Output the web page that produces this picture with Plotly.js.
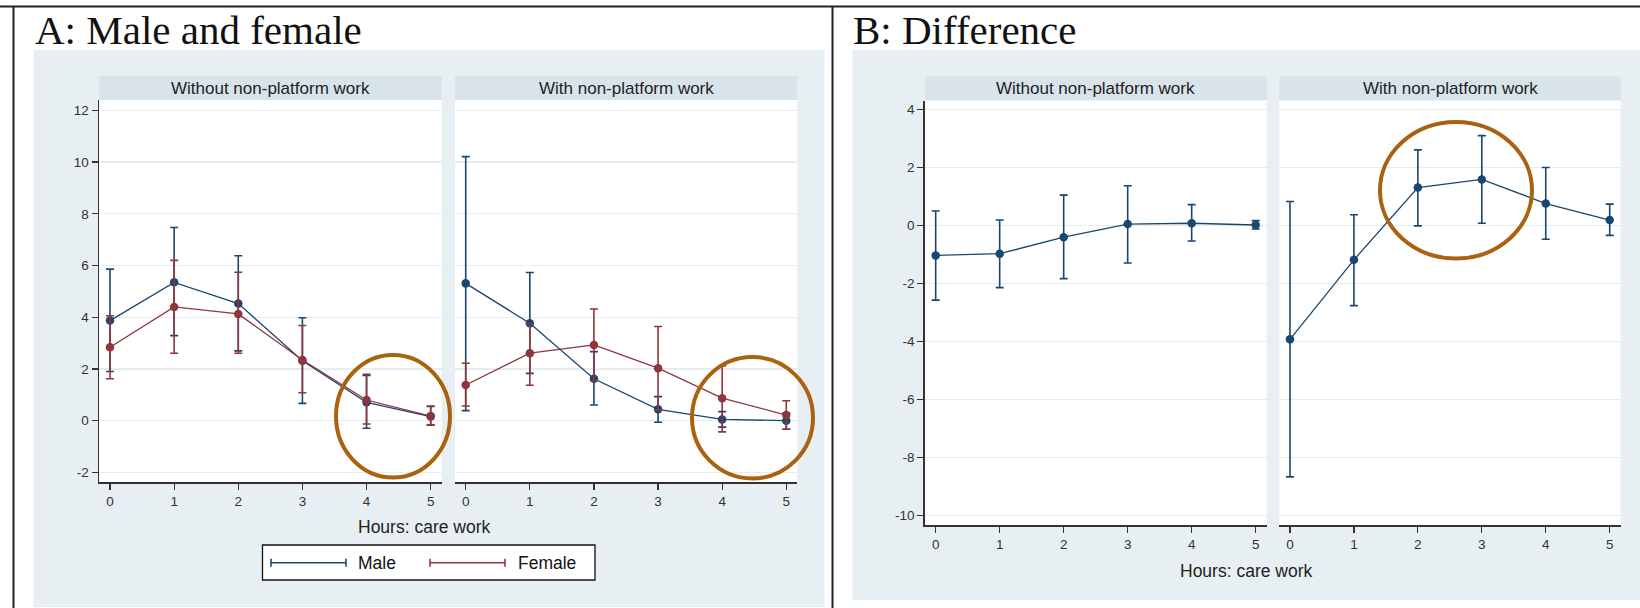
<!DOCTYPE html>
<html><head><meta charset="utf-8">
<script src="https://cdn.plot.ly/plotly-3.0.1.min.js"></script>
<style>html,body{margin:0;padding:0;background:#fff;}#chart{width:1640px;height:608px;}</style>
</head><body><div id="chart"></div><script>
// ---------- data ----------
const hours = [0, 1, 2, 3, 4, 5];
const stripLabels = ["Without non-platform work", "With non-platform work"];
const panelTitles = ["A: Male and female", "B: Difference"];
const xTitle = "Hours: care work";
const legendLabels = ["Male", "Female"];
const yTicksA = [-2, 0, 2, 4, 6, 8, 10, 12];
const yTicksB = [-10, -8, -6, -4, -2, 0, 2, 4];

const maleWithout   = [3.87, 5.35, 4.53, 2.32, 0.71, 0.16];
const maleWithoutLo = [1.90, 3.29, 2.70, 0.67, -0.29, -0.17];
const maleWithoutHi = [5.86, 7.47, 6.38, 3.98, 1.75, 0.55];
const femaleWithout   = [2.84, 4.40, 4.13, 2.35, 0.80, 0.18];
const femaleWithoutLo = [1.62, 2.61, 2.61, 1.08, -0.13, -0.17];
const femaleWithoutHi = [4.06, 6.20, 5.74, 3.68, 1.79, 0.57];

const maleWith   = [5.31, 3.77, 1.62, 0.44, 0.05, 0.00];
const maleWithLo = [0.39, 1.83, 0.61, -0.06, -0.25, -0.33];
const maleWithHi = [10.21, 5.73, 2.67, 0.93, 0.35, 0.30];
const femaleWith   = [1.38, 2.61, 2.93, 2.03, 0.87, 0.22];
const femaleWithLo = [0.57, 1.37, 1.55, 0.41, -0.43, -0.33];
const femaleWithHi = [2.22, 3.75, 4.32, 3.64, 2.12, 0.77];

const diffWithout   = [-1.03, -0.97, -0.40, 0.05, 0.08, 0.02];
const diffWithoutLo = [-2.57, -2.14, -1.83, -1.29, -0.53, -0.12];
const diffWithoutHi = [0.50, 0.19, 1.05, 1.37, 0.72, 0.17];
const diffWith   = [-3.92, -1.18, 1.31, 1.59, 0.76, 0.19];
const diffWithLo = [-8.66, -2.76, -0.01, 0.08, -0.47, -0.34];
const diffWithHi = [0.83, 0.37, 2.61, 3.10, 2.00, 0.74];

// ---------- style ----------
const W = 1640, H = 608;
const BLUE = "#1a476f", RED = "#90353b", RING = "#a9620f";
const PANEL_BG = "#e8eff2", STRIP_BG = "#d8e4ea", GRID = "#e5edf0";
const SANS = "Liberation Sans, Arial, sans-serif";
const SERIF = "Liberation Serif, Times New Roman, serif";
const px = x => x / W, py = y => 1 - y / H;

function series(y, lo, hi, color, xa, ya, name) {
  return {
    type: "scatter", mode: "lines+markers", name: name, showlegend: false,
    x: hours, y: y, xaxis: xa, yaxis: ya,
    line: {color: color, width: 1.3},
    marker: {color: color, size: 8.5},
    error_y: {type: "data", symmetric: false,
      array: hi.map((h, i) => h - y[i]),
      arrayminus: y.map((v, i) => v - lo[i]),
      color: color, thickness: 1.6, width: 4}
  };
}

const traces = [
  series(maleWithout, maleWithoutLo, maleWithoutHi, BLUE, "x", "y", legendLabels[0]),
  series(femaleWithout, femaleWithoutLo, femaleWithoutHi, RED, "x", "y", legendLabels[1]),
  series(maleWith, maleWithLo, maleWithHi, BLUE, "x2", "y2", legendLabels[0]),
  series(femaleWith, femaleWithLo, femaleWithHi, RED, "x2", "y2", legendLabels[1]),
  series(diffWithout, diffWithoutLo, diffWithoutHi, BLUE, "x3", "y3", "Difference"),
  series(diffWith, diffWithLo, diffWithHi, BLUE, "x4", "y4", "Difference")
];

// subplot geometry (pixels)
const boxes = {
  x:  [99.3, 441.7], x2: [455, 797.3], x3: [925, 1266.7], x4: [1279.3, 1620.7]
};
const yA = [100, 482], yB = [100.5, 525];

function xax(key, anchor) {
  return {
    domain: [px(boxes[key][0]), px(boxes[key][1])], anchor: anchor,
    range: [-0.167, 5.172], tickvals: hours, ticktext: hours.map(String),
    showline: true, linecolor: "#333", linewidth: 1.8, ticks: "outside",
    ticklen: 6, tickwidth: 1.2, tickcolor: "#333", showgrid: false, zeroline: false,
    tickfont: {family: SANS, size: 13.5, color: "#333"}, fixedrange: true
  };
}
function yax(anchor, yb, range, ticks, show) {
  return {
    domain: [py(yb[1]), py(yb[0])], anchor: anchor, range: range,
    tickvals: ticks, ticktext: ticks.map(String),
    showline: show, linecolor: "#333", linewidth: 1.8,
    ticks: show ? "outside" : "", ticklen: 6, tickwidth: 1.2, tickcolor: "#333",
    showticklabels: show, showgrid: true, gridcolor: GRID, gridwidth: 1.2,
    zeroline: false, tickfont: {family: SANS, size: 13.5, color: "#333"}, fixedrange: true
  };
}

const rangeA = [-2.37, 12.4], rangeB = [-10.32, 4.31];

const shapes = [];
function rect(x0, y0, x1, y1, fill, layer) {
  shapes.push({type: "rect", xref: "paper", yref: "paper", x0: px(x0), x1: px(x1),
    y0: py(y1), y1: py(y0), fillcolor: fill, line: {width: 0}, layer: layer || "below"});
}
function line(x0, y0, x1, y1, color, width) {
  shapes.push({type: "line", xref: "paper", yref: "paper", x0: px(x0), x1: px(x1),
    y0: py(y0), y1: py(y1), line: {color: color, width: width}, layer: "above"});
}
// panel backgrounds
rect(33.5, 50, 824.5, 607, PANEL_BG);
rect(852.5, 50, 1640, 600, PANEL_BG);
// strips
rect(boxes.x[0], 76, boxes.x[1], 100, STRIP_BG);
rect(boxes.x2[0], 76, boxes.x2[1], 100, STRIP_BG);
rect(boxes.x3[0], 76.5, boxes.x3[1], 100.5, STRIP_BG);
rect(boxes.x4[0], 76.5, boxes.x4[1], 100.5, STRIP_BG);
// white plot regions
[["x","y"],["x2","y2"],["x3","y3"],["x4","y4"]].forEach(([xa, ya]) => {
  shapes.push({type: "rect", xref: xa + " domain", yref: ya + " domain",
    x0: 0, x1: 1, y0: 0, y1: 1, fillcolor: "#ffffff", line: {width: 0}, layer: "below"});
});
// frame lines
line(0, 6.5, 1640, 6.5, "#222", 2.2);
line(13.5, 6.5, 13.5, 608, "#222", 2);
line(832.5, 6.5, 832.5, 608, "#222", 2);
// highlight rings
const ring = (x0, y0, x1, y1) => shapes.push({type: "circle", xref: "paper", yref: "paper",
  x0: px(x0), x1: px(x1), y0: py(y1), y1: py(y0), line: {color: RING, width: 4}, layer: "above"});
ring(336, 355, 450, 477.5);
ring(692, 357, 813, 478.5);
ring(1380, 122, 1532, 258.5);
// legend box
shapes.push({type: "rect", xref: "paper", yref: "paper", x0: px(262.5), x1: px(595),
  y0: py(580), y1: py(545), fillcolor: "#ffffff", line: {color: "#111", width: 1.3}, layer: "above"});
const legendKeys = [[271, 346, BLUE], [430, 505, RED]];
legendKeys.forEach(([a, b, c]) => {
  line(a, 562.7, b, 562.7, c, 1.6);
  line(a, 558.7, a, 566.7, c, 1.6);
  line(b, 558.7, b, 566.7, c, 1.6);
});

const annotations = [];
function text(t, x, y, size, family, xanchor, color) {
  annotations.push({text: t, xref: "paper", yref: "paper", x: px(x), y: py(y),
    xanchor: xanchor || "center", yanchor: "middle", showarrow: false,
    font: {family: family, size: size, color: color || "#222"}});
}
text(panelTitles[0], 33, 29.5, 41, SERIF, "left", "#111");
text(panelTitles[1], 851, 29.5, 41, SERIF, "left", "#111");
text(stripLabels[0], (boxes.x[0] + boxes.x[1]) / 2, 88, 17, SANS);
text(stripLabels[1], (boxes.x2[0] + boxes.x2[1]) / 2, 88, 17, SANS);
text(stripLabels[0], (boxes.x3[0] + boxes.x3[1]) / 2, 88.5, 17, SANS);
text(stripLabels[1], (boxes.x4[0] + boxes.x4[1]) / 2, 88.5, 17, SANS);
text(xTitle, 424, 527, 17.5, SANS);
text(xTitle, 1246, 571, 17.5, SANS);
text(legendLabels[0], 356, 562.7, 17.5, SANS, "left", "#111");
text(legendLabels[1], 516, 562.7, 17.5, SANS, "left", "#111");

const layout = {
  width: W, height: H, margin: {l: 0, r: 0, t: 0, b: 0},
  paper_bgcolor: "#ffffff", plot_bgcolor: "rgba(0,0,0,0)", showlegend: false,
  xaxis: xax("x", "y"), xaxis2: xax("x2", "y2"), xaxis3: xax("x3", "y3"), xaxis4: xax("x4", "y4"),
  yaxis: yax("x", yA, rangeA, yTicksA, true),
  yaxis2: yax("x2", yA, rangeA, yTicksA, false),
  yaxis3: yax("x3", yB, rangeB, yTicksB, true),
  yaxis4: yax("x4", yB, rangeB, yTicksB, false),
  shapes: shapes, annotations: annotations
};
Plotly.newPlot("chart", traces, layout, {staticPlot: true, displayModeBar: false});
</script></body></html>
